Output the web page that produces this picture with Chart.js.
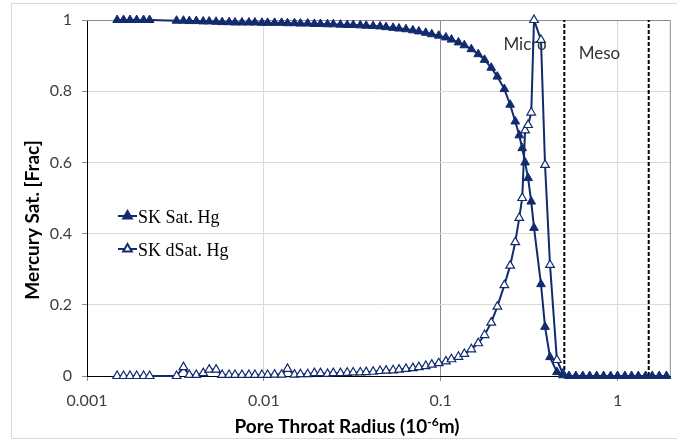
<!DOCTYPE html>
<html>
<head>
<meta charset="utf-8">
<script src="https://cdn.jsdelivr.net/npm/chart.js@4.4.0/dist/chart.umd.min.js"></script>
<style>
  html, body { margin: 0; padding: 0; background: #fff; }
  #wrap { width: 677px; height: 441px; }
</style>
</head>
<body>
<div id="wrap"><canvas id="chart" width="677" height="441"></canvas></div>
<script>
// pore throat radius (10^-6 m), shared by both series
const radius = [
  0.00148, 0.00161, 0.00175, 0.00191, 0.00209, 0.00226,
  0.00321, 0.00351, 0.00379, 0.00415, 0.00454, 0.00491, 0.00537,
  0.00581, 0.00636, 0.00687, 0.00752, 0.00823, 0.00890, 0.00975, 0.0105, 0.0115, 0.0126,
  0.0136, 0.0149, 0.0161, 0.0177, 0.0193, 0.0209, 0.0229, 0.0247, 0.0271, 0.0296,
  0.0320, 0.0351, 0.0379, 0.0415, 0.0454, 0.0491, 0.0538, 0.0581, 0.0636, 0.0696,
  0.0752, 0.0823, 0.0890, 0.0975, 0.107, 0.115, 0.126, 0.136, 0.149, 0.163,
  0.177, 0.193, 0.209, 0.229, 0.247,
  0.264, 0.278, 0.289, 0.300, 0.312, 0.325, 0.337, 0.369, 0.389, 0.415, 0.454, 0.491,
  0.531, 0.581, 0.636, 0.696, 0.762, 0.834, 0.914, 1.00, 1.10, 1.20, 1.31, 1.44, 1.57, 1.72, 1.89
];

const satHg = [
  1, 1, 1, 1, 1, 1,
  0.998, 0.998, 0.997, 0.997, 0.996, 0.996, 0.995,
  0.994, 0.994, 0.993, 0.993, 0.993, 0.993, 0.992, 0.992, 0.992, 0.992,
  0.991, 0.991, 0.990, 0.990, 0.989, 0.989, 0.988, 0.988, 0.987, 0.986,
  0.986, 0.985, 0.984, 0.983, 0.982, 0.980, 0.978, 0.976, 0.974, 0.971,
  0.968, 0.964, 0.960, 0.956, 0.951, 0.945, 0.937, 0.929, 0.918, 0.904,
  0.888, 0.866, 0.841, 0.806, 0.762,
  0.715, 0.676, 0.640, 0.600, 0.556, 0.490, 0.416, 0.258, 0.138, 0.053, 0.011, 0.002,
  0, 0, 0, 0, 0, 0, 0, 0, 0, 0, 0, 0, 0, 0, 0
];

// dSat stops at the end of the micro range
const dSatHg = [
  0, 0, 0, 0, 0, 0,
  0.000, 0.025, 0.003, 0.003, 0.008, 0.018, 0.018,
  0.003, 0.003, 0.003, 0.003, 0.003, 0.003, 0.003, 0.003, 0.004, 0.004,
  0.020, 0.004, 0.005, 0.005, 0.008, 0.008, 0.006, 0.008, 0.008, 0.009,
  0.010, 0.010, 0.011, 0.012, 0.014, 0.015, 0.016, 0.018, 0.020, 0.022,
  0.025, 0.028, 0.032, 0.036, 0.041, 0.047, 0.054, 0.062, 0.075, 0.092,
  0.115, 0.150, 0.195, 0.255, 0.310,
  0.376, 0.444, 0.500, 0.690, 0.705, 0.740, 1.000, 0.944, 0.593, 0.312, 0.045, 0.006
];

const seriesNames = ['SK Sat. Hg', 'SK dSat. Hg'];
const xTicks = [0.001, 0.01, 0.1, 1];
const xTickLabels = ['0.001', '0.01', '0.1', '1'];
const yTicks = [0, 0.2, 0.4, 0.6, 0.8, 1];
const yTickLabels = ['0', '0.2', '0.4', '0.6', '0.8', '1'];
const zoneBounds = [0.5, 1.5];
const zoneNames = ['Micro', 'Meso'];

const NAVY = '#112b6e';
const SANS = 'Lato, "Open Sans", sans-serif';
const MARK = 5;

function drawTriangle(ctx, x, y, fill) {
    ctx.save();
    ctx.fillStyle = fill;
    ctx.strokeStyle = NAVY;
    Chart.helpers.drawPoint(ctx, { pointStyle: 'triangle', radius: MARK, rotation: 0, borderWidth: 1.2 }, x, y);
    ctx.restore();
}

const decor = {
    id: 'decor',
    beforeDraw(chart) {
        const c = chart.ctx;
        c.save();
        c.strokeStyle = '#d9d9d9';
        c.lineWidth = 1;
        c.strokeRect(11.5, 3.5, 680, 435);
        c.restore();
    },
    beforeDatasetsDraw(chart) {
        const c = chart.ctx, a = chart.chartArea;
        const xs = chart.scales.x, ys = chart.scales.y;
        c.save();
        // plot frame (top/right grey)
        c.strokeStyle = '#8c8c8c';
        c.lineWidth = 1;
        c.beginPath();
        c.moveTo(a.left, a.top + 0.5);
        c.lineTo(a.right - 0.5, a.top + 0.5);
        c.lineTo(a.right - 0.5, a.bottom);
        c.stroke();
        // zone labels
        c.fillStyle = '#333';
        c.font = '17px ' + SANS;
        c.textAlign = 'center';
        c.textBaseline = 'middle';
        c.fillText(zoneNames[0], xs.getPixelForValue(0.3), ys.getPixelForValue(0.93));
        c.fillText(zoneNames[1], xs.getPixelForValue(0.79), ys.getPixelForValue(0.907));
        c.restore();
    },
    afterDraw(chart) {
        const c = chart.ctx;
        c.save();
        // legend
        const rows = [216, 249];
        c.font = '18px "Liberation Serif", "Times New Roman", serif';
        c.textBaseline = 'middle';
        c.textAlign = 'left';
        rows.forEach((y, i) => {
            c.strokeStyle = NAVY;
            c.lineWidth = 2;
            c.beginPath();
            c.moveTo(118, y);
            c.lineTo(137, y);
            c.stroke();
            drawTriangle(c, 127.5, y, i === 0 ? NAVY : '#fff');
            c.fillStyle = '#000';
            c.fillText(seriesNames[i], 138, y + 2);
        });

        // axis titles
        c.fillStyle = '#000';
        c.textBaseline = 'alphabetic';
        const big = 'bold 19px ' + SANS, small = 'bold 12px ' + SANS;
        const p1 = 'Pore Throat Radius (10', sup = '-6', p2 = 'm)';
        c.font = big;
        const w1 = c.measureText(p1).width, w3 = c.measureText(p2).width;
        c.font = small;
        const w2 = c.measureText(sup).width;
        const x = 347 - (w1 + w2 + w3) / 2;
        const base = 433;
        c.font = big;
        c.fillText(p1, x, base);
        c.font = small;
        c.fillText(sup, x + w1, base - 7);
        c.font = big;
        c.fillText(p2, x + w1 + w2, base);

        c.translate(33, 220);
        c.rotate(-Math.PI / 2);
        c.textAlign = 'center';
        c.textBaseline = 'middle';
        c.font = 'bold 19px ' + SANS;
        c.fillText('Mercury Sat. [Frac]', 0, 0);
        c.restore();
    }
};

const datasets = [
    {
        label: seriesNames[0],
        data: radius.map((r, i) => ({ x: r, y: satHg[i] })),
        borderColor: NAVY,
        backgroundColor: NAVY,
        borderWidth: 2,
        pointStyle: 'triangle',
        pointRadius: MARK,
        pointBorderWidth: 1,
        pointBackgroundColor: NAVY,
        tension: 0,
        clip: false
    },
    {
        label: seriesNames[1],
        data: dSatHg.map((v, i) => ({ x: radius[i], y: v })),
        borderColor: NAVY,
        backgroundColor: '#fff',
        borderWidth: 2,
        pointStyle: 'triangle',
        pointRadius: MARK,
        pointBorderWidth: 1.2,
        pointBackgroundColor: '#fff',
        tension: 0,
        clip: false
    }
];
zoneBounds.forEach(b => {
    datasets.push({
        data: [{ x: b, y: 0 }, { x: b, y: 1 }],
        borderColor: '#000',
        borderWidth: 2,
        borderDash: [4, 2],
        pointRadius: 0
    });
});

new Chart(document.getElementById('chart'), {
    type: 'line',
    data: { datasets },
    options: {
        responsive: false,
        animation: false,
        layout: { padding: { left: 12, top: 20, right: 3, bottom: 10 } },
        plugins: { legend: { display: false }, tooltip: { enabled: false } },
        scales: {
            x: {
                type: 'logarithmic',
                min: 0.001,
                max: 2,
                afterBuildTicks: s => { s.ticks = xTicks.map(v => ({ value: v })); },
                afterFit: s => { s.height = 55; },
                ticks: {
                    callback: (v, i) => xTickLabels[i],
                    autoSkip: false,
                    maxRotation: 0,
                    padding: 10,
                    color: '#404040',
                    font: { family: SANS, size: 16 }
                },
                grid: {
                    color: c => (c.tick && c.tick.value === 0.1) ? '#8c8c8c' : '#d9d9d9',
                    tickColor: '#8c8c8c',
                    tickLength: 5
                },
                border: { color: '#000', width: 1 }
            },
            y: {
                min: 0,
                max: 1,
                afterBuildTicks: s => { s.ticks = yTicks.map(v => ({ value: v })); },
                afterFit: s => { s.width = 75; },
                ticks: {
                    callback: (v, i) => yTickLabels[i],
                    padding: 10,
                    color: '#404040',
                    font: { family: SANS, size: 16 }
                },
                grid: { color: '#d9d9d9', tickColor: '#8c8c8c', tickLength: 5 },
                border: { color: '#000', width: 1 }
            }
        }
    },
    plugins: [decor]
});
</script>
</body>
</html>
